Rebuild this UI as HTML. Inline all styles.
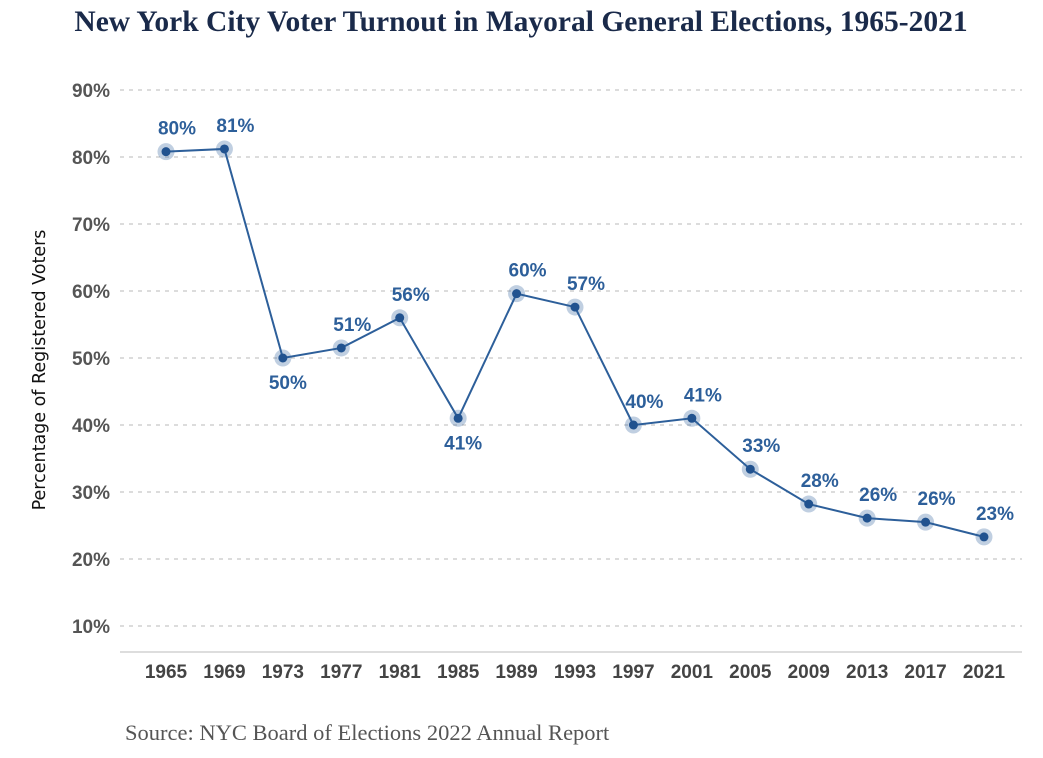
<!DOCTYPE html>
<html><head><meta charset="utf-8"><style>
html,body{margin:0;padding:0;background:#fff;}
svg{display:block;}
</style></head><body>
<svg id="chart" width="1043" height="758" viewBox="0 0 1043 758" xmlns="http://www.w3.org/2000/svg">
<text x="521" y="31" text-anchor="middle" font-family="Liberation Serif, serif" font-weight="bold" font-size="29.5" fill="#1a2a4a">New York City Voter Turnout in Mayoral General Elections, 1965-2021</text>
<text transform="translate(45,370) rotate(-90)" text-anchor="middle" font-family="DejaVu Sans, sans-serif" font-size="17.5" fill="#111">Percentage of Registered Voters</text>
<text x="125" y="740" font-family="Liberation Serif, serif" font-size="22.5" fill="#555">Source: NYC Board of Elections 2022 Annual Report</text>
<g id="grid"></g><g id="marks"></g>
</svg>
<script>
const years = [1965,1969,1973,1977,1981,1985,1989,1993,1997,2001,2005,2009,2013,2017,2021];
const turnout = [80.8,81.2,50.0,51.5,56.0,41.0,59.6,57.6,40.0,41.0,33.4,28.2,26.1,25.5,23.3];
const valueLabels = ["80%","81%","50%","51%","56%","41%","60%","57%","40%","41%","33%","28%","26%","26%","23%"];
const labelBelow = [false,false,true,false,false,true,false,false,false,false,false,false,false,false,false];
const yTicks = [10,20,30,40,50,60,70,80,90];
const yTickLabels = ["10%","20%","30%","40%","50%","60%","70%","80%","90%"];

const NS="http://www.w3.org/2000/svg";
const FONT='Liberation Sans, DejaVu Sans, sans-serif';
const x = i => 166 + i*(984-166)/(years.length-1);
const y = v => 693 - v*6.7;
function mk(tag, attrs, parent){const e=document.createElementNS(NS,tag);for(const k in attrs)e.setAttribute(k,attrs[k]);parent.appendChild(e);return e;}
const grid=document.getElementById('grid'), marks=document.getElementById('marks');
yTicks.forEach((t,i)=>{
  const l=mk('line',{x1:120,x2:1022,y1:y(t),y2:y(t),stroke:'#c8c8c8','stroke-width':1.2,'stroke-dasharray':'4 5'},grid);
  
  
  const tx=mk('text',{x:110,y:y(t)+7,'text-anchor':'end','font-family':FONT,'font-weight':'bold','font-size':19,fill:'#555'},grid);
  tx.textContent=yTickLabels[i];
  
  
});
const ax=mk('line',{x1:120,x2:1022,y1:652,y2:652,stroke:'#ddd','stroke-width':2},grid);


years.forEach((yr,i)=>{
  const tx=mk('text',{x:x(i),y:678,'text-anchor':'middle','font-family':FONT,'font-weight':'bold','font-size':19,fill:'#444'},grid);
  tx.textContent=yr;
  
  
});
const line=mk('polyline',{points:turnout.map((v,i)=>x(i)+','+y(v)).join(' '),fill:'none',stroke:'#2d5f9a','stroke-width':2},marks);


turnout.forEach((v,i)=>{
  const h=mk('circle',{cx:x(i),cy:y(v),r:8.5,fill:'#2d5f9a','fill-opacity':0.3},marks);
  
  
  const c=mk('circle',{cx:x(i),cy:y(v),r:4.5,fill:'#21528f'},marks);
  
  
  const ly = labelBelow[i] ? y(v)+31 : y(v)-17;
  const t=mk('text',{x:x(i)+(labelBelow[i]?5:11),y:ly,'text-anchor':'middle','font-family':FONT,'font-weight':'bold','font-size':19,fill:'#2d5f9a'},marks);
  t.textContent=valueLabels[i];
  
  
});
</script>
</body></html>
